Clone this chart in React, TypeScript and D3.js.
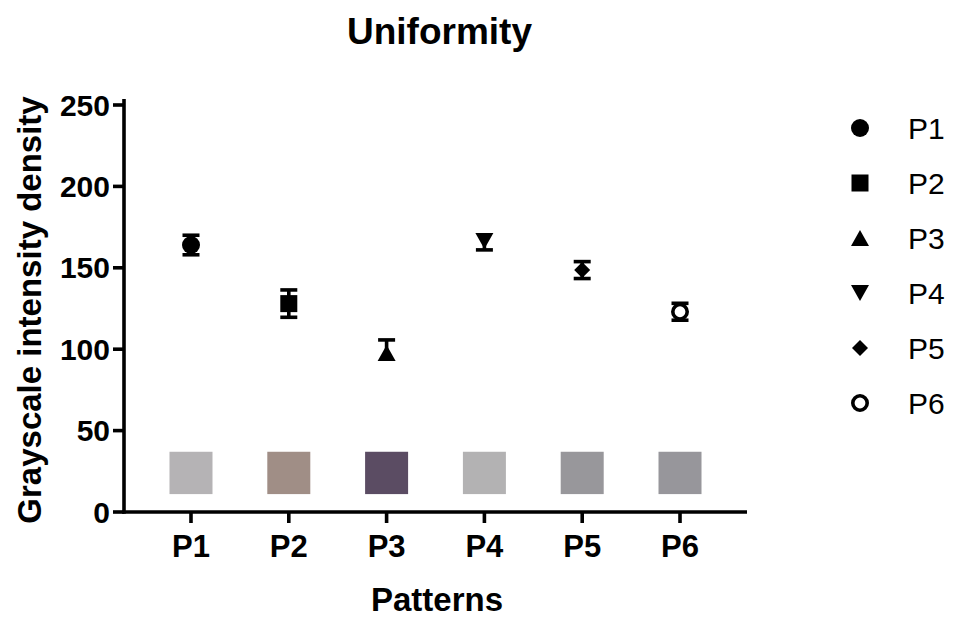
import React from 'react';
import * as d3 from 'd3';

const categories = ['P1', 'P2', 'P3', 'P4', 'P5', 'P6'];
const means = [164, 128, 97.7, 166.5, 148.6, 123];
const errors = [6, 8.4, 8, 5.5, 5.2, 5.2];
// which side of the mean the error bar is drawn on
const errorSides = ['both', 'both', 'up', 'down', 'both', 'both'];
const swatchColors = ['#b5b3b5', '#a08e86', '#5b4c63', '#b3b2b3', '#98979b', '#97969b'];
const swatchRange = [11, 37];
const yTicks = [0, 50, 100, 150, 200, 250];

const shapes = ['circle', 'square', 'triangle', 'triangleDown', 'diamond', 'ring'];

const font = "'Liberation Sans', Arial, sans-serif";

function Marker({ shape, x, y }: { shape: string; x: number; y: number }) {
  if (shape === 'circle') return <circle cx={x} cy={y} r={9} fill="#000" />;
  if (shape === 'ring') return <circle cx={x} cy={y} r={7.2} fill="#fff" stroke="#000" strokeWidth={3.6} />;
  if (shape === 'square') return <rect x={x - 8.5} y={y - 8.5} width={17} height={17} fill="#000" />;
  if (shape === 'diamond') {
    const p = d3.symbol(d3.symbolSquare, 128)();
    return <path d={p || ''} transform={`translate(${x},${y}) rotate(45)`} fill="#000" />;
  }
  // triangle centred on its bounding box
  const s = shape === 'triangleDown' ? -1 : 1;
  const p = d3.path();
  p.moveTo(x, y - 8 * s);
  p.lineTo(x + 9, y + 8 * s);
  p.lineTo(x - 9, y + 8 * s);
  p.closePath();
  return <path d={p.toString()} fill="#000" />;
}

export default function App() {
  const width = 953;
  const height = 619;
  const margin = { left: 124, right: 206 };

  const x = d3
    .scalePoint<string>()
    .domain(categories)
    .range([margin.left, width - margin.right])
    .padding(0.685);

  const y = d3.scaleLinear().domain([0, 250]).range([512, 105]);

  const capW = 17;
  const sw = 3.6;

  return (
    <svg
      width={width}
      height={height}
      style={{ position: 'absolute', left: 0, top: 0, background: '#fff' }}
      fontFamily={font}
    >
      <rect width={width} height={height} fill="#fff" />
      {/* title */}
      <text x={439.5} y={44} textAnchor="middle" fontSize={37} fontWeight="bold">
        Uniformity
      </text>

      {/* swatches */}
      {categories.map((c, i) => (
        <rect
          key={'sw' + c}
          x={(x(c) as number) - 21.5}
          y={y(swatchRange[1])}
          width={43}
          height={y(swatchRange[0]) - y(swatchRange[1])}
          fill={swatchColors[i]}
        />
      ))}

      {/* y axis */}
      <line x1={margin.left} x2={margin.left} y1={99} y2={513.8} stroke="#000" strokeWidth={sw} />
      {yTicks.map((t) => (
        <g key={'yt' + t}>
          <line x1={margin.left - 11} x2={margin.left} y1={y(t)} y2={y(t)} stroke="#000" strokeWidth={sw} />
          <text
            x={110}
            y={y(t)}
            textAnchor="end"
            dominantBaseline="central"
            fontSize={30}
            fontWeight="bold"
          >
            {t}
          </text>
        </g>
      ))}

      {/* x axis */}
      <line x1={margin.left - 1.8} x2={747} y1={512} y2={512} stroke="#000" strokeWidth={sw} />
      {categories.map((c) => (
        <g key={'xt' + c}>
          <line x1={x(c)} x2={x(c)} y1={512} y2={523} stroke="#000" strokeWidth={sw} />
          <text x={x(c)} y={557} textAnchor="middle" fontSize={31} fontWeight="bold">
            {c}
          </text>
        </g>
      ))}

      {/* axis titles */}
      <text x={437} y={611} textAnchor="middle" fontSize={33} fontWeight="bold">
        Patterns
      </text>
      <text
        transform={`translate(41,310) rotate(-90)`}
        textAnchor="middle"
        fontSize={33}
        fontWeight="bold"
      >
        Grayscale intensity density
      </text>

      {/* error bars + markers */}
      {categories.map((c, i) => {
        const cx = x(c) as number;
        const cy = y(means[i]);
        const lo = y(means[i] - errors[i]);
        const hi = y(means[i] + errors[i]);
        const ends: number[] = [];
        if (errorSides[i] !== 'up') ends.push(lo);
        if (errorSides[i] !== 'down') ends.push(hi);
        return (
          <g key={'pt' + c}>
            {ends.map((e, k) => (
              <g key={k}>
                <line x1={cx} x2={cx} y1={cy} y2={e} stroke="#000" strokeWidth={sw} />
                <line x1={cx - capW / 2} x2={cx + capW / 2} y1={e} y2={e} stroke="#000" strokeWidth={sw} />
              </g>
            ))}
            <Marker shape={shapes[i]} x={cx} y={cy} />
          </g>
        );
      })}

      {/* legend */}
      {categories.map((c, i) => {
        const ly = 128 + i * 55;
        return (
          <g key={'lg' + c}>
            <Marker shape={shapes[i]} x={860} y={ly} />
            <text x={908} y={ly} dominantBaseline="central" fontSize={30}>
              {c}
            </text>
          </g>
        );
      })}
    </svg>
  );
}
